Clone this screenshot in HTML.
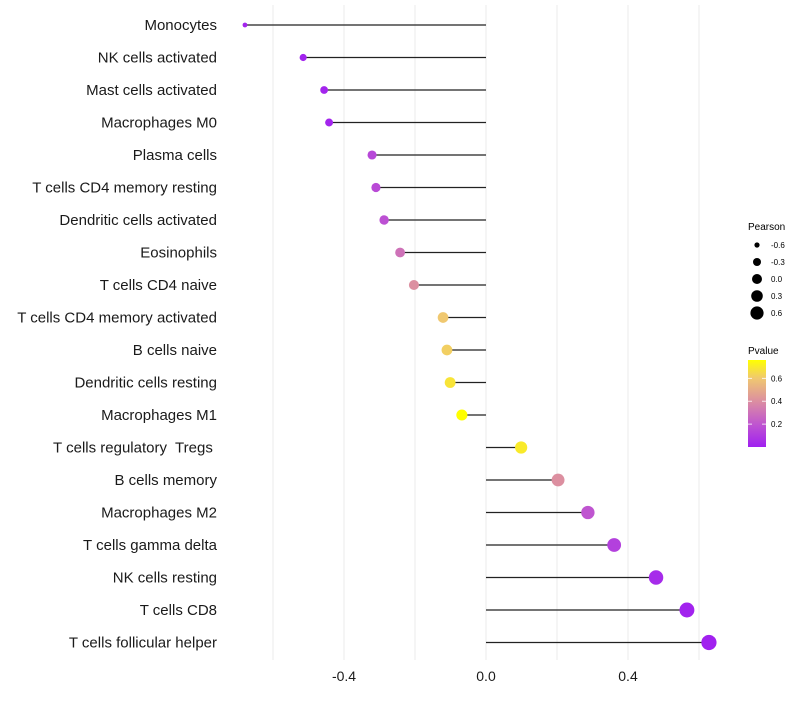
<!DOCTYPE html>
<html><head><meta charset="utf-8"><style>
body{margin:0;background:#fff;font-family:"Liberation Sans",Arial,sans-serif;}
svg text{font-family:"Liberation Sans",Arial,sans-serif;white-space:pre;}
</style></head><body>
<svg id="chart" width="800" height="700" viewBox="0 0 800 700" xmlns="http://www.w3.org/2000/svg">
<defs><linearGradient id="pg" x1="0" y1="1" x2="0" y2="0">
<stop offset="0" stop-color="#a020f0"/><stop offset="0.26" stop-color="#bf55d0"/><stop offset="0.53" stop-color="#dc8fa0"/><stop offset="0.79" stop-color="#f0c870"/><stop offset="1" stop-color="#ffff00"/></linearGradient></defs>
<g id="grid"></g><g id="marks"></g><g id="ylabels"></g><g id="xlabels"></g>
<g id="legend">
<text x="748" y="230" font-size="10">Pearson</text>
<g id="sizeleg"></g>
<text x="748" y="354" font-size="10">Pvalue</text>
<rect x="748" y="360" width="18" height="87" fill="url(#pg)"/>
<g id="colleg"></g>
</g>
</svg>
<script>
const categories=["Monocytes","NK cells activated","Mast cells activated","Macrophages M0","Plasma cells","T cells CD4 memory resting","Dendritic cells activated","Eosinophils","T cells CD4 naive","T cells CD4 memory activated","B cells naive","Dendritic cells resting","Macrophages M1","T cells regulatory  Tregs ","B cells memory","Macrophages M2","T cells gamma delta","NK cells resting","T cells CD8","T cells follicular helper"];
const pearson=[-0.679,-0.515,-0.456,-0.442,-0.321,-0.31,-0.287,-0.242,-0.203,-0.121,-0.11,-0.101,-0.068,0.099,0.203,0.287,0.361,0.479,0.566,0.628];
const pvalue=[0.02,0.01,0.02,0.02,0.15,0.16,0.18,0.3,0.4,0.6,0.62,0.68,0.76,0.7,0.4,0.2,0.12,0.04,0.01,0.005];
const xTicks=[-0.4,0.0,0.4];
const sizeLegend=[-0.6,-0.3,0.0,0.3,0.6];
const colorTicks=[0.2,0.4,0.6];
const NS="http://www.w3.org/2000/svg";
const x=v=>486+v*355;
const y=i=>25+i*32.5;
const vmin=Math.min(...pearson),vmax=Math.max(...pearson);
const r=v=>Math.sqrt(4+(52-4)*(v-vmin)/(vmax-vmin))+0.4;
const stops=[[0,[160,32,240]],[0.2,[191,85,208]],[0.4,[220,143,160]],[0.6,[240,200,112]],[0.76,[255,255,0]]];
function col(p){p=Math.max(0,Math.min(0.76,p));for(let k=1;k<stops.length;k++){if(p<=stops[k][0]){const a=stops[k-1],b=stops[k],t=(p-a[0])/(b[0]-a[0]);return "rgb("+a[1].map((c,j)=>Math.round(c+(b[1][j]-c)*t)).join(",")+")";}}return "rgb(255,255,0)";}
function el(t,a,p){const e=document.createElementNS(NS,t);for(const k in a)e.setAttribute(k,a[k]);p.appendChild(e);return e;}
const grid=document.getElementById('grid');
for(let v=-0.6;v<=0.61;v+=0.2){const g=el('line',{x1:x(v),x2:x(v),y1:5,y2:660,stroke:'#ebebeb','stroke-width':1},grid);

}
const marks=document.getElementById('marks'),yl=document.getElementById('ylabels'),xl=document.getElementById('xlabels');
categories.forEach((c,i)=>{
const s=el('line',{x1:x(0),x2:x(pearson[i]),y1:y(i),y2:y(i),stroke:'#222','stroke-width':1.2},marks);


const d=el('circle',{cx:x(pearson[i]),cy:y(i),r:r(pearson[i]),fill:col(pvalue[i])},marks);


const t=el('text',{x:217,y:y(i)+5,'text-anchor':'end','font-size':15,fill:'#1a1a1a'},yl);t.textContent=c;


});
xTicks.forEach(v=>{const t=el('text',{x:x(v),y:681,'text-anchor':'middle','font-size':14,fill:'#1a1a1a'},xl);t.textContent=v.toFixed(1);

});
const sl=document.getElementById('sizeleg');
const lr=[2.6,4,5,5.8,6.6];
sizeLegend.forEach((v,i)=>{const cy=245+i*17;
const c=el('circle',{cx:757,cy:cy,r:lr[i],fill:'#000'},sl);


const t=el('text',{x:771,y:cy+3,'font-size':8},sl);t.textContent=v.toFixed(1);

});
const cl=document.getElementById('colleg');
colorTicks.forEach(v=>{const cy=447-v/0.76*87;
el('line',{x1:748,x2:752,y1:cy,y2:cy,stroke:'#fff','stroke-width':0.8},cl);
el('line',{x1:762,x2:766,y1:cy,y2:cy,stroke:'#fff','stroke-width':0.8},cl);
const t=el('text',{x:771,y:cy+3,'font-size':8},cl);t.textContent=v.toFixed(1);

});
</script>
</body></html>
